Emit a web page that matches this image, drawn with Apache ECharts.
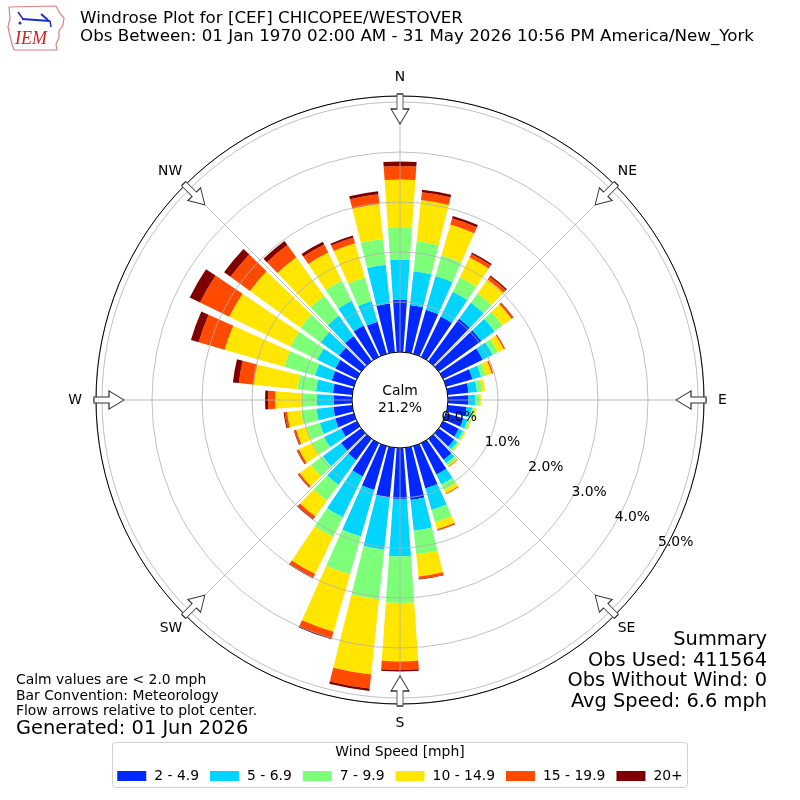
<!DOCTYPE html>
<html>
<head>
<meta charset="utf-8">
<script src="https://cdn.jsdelivr.net/npm/echarts@6/dist/echarts.min.js"></script>
<style>
  html, body { margin: 0; padding: 0; background: #fff; }
  #chart { width: 800px; height: 800px; }
</style>
</head>
<body>
<div id="chart"></div>
<script>
// wind direction bins (degrees, 10 degree bins centred on the value)
const directions = ['0', '10', '20', '30', '40', '50', '60', '70', '80', '90', '100', '110',
  '120', '130', '140', '150', '160', '170', '180', '190', '200', '210', '220', '230',
  '240', '250', '260', '270', '280', '290', '300', '310', '320', '330', '340', '350'];

// speed classes and colours
const speedBins = ['2 - 4.9', '5 - 6.9', '7 - 9.9', '10 - 14.9', '15 - 19.9', '20+'];
const binColors = ['#0028ff', '#00d4ff', '#7dff7a', '#ffe600', '#ff4a00', '#800000'];

// frequency (%) per direction for each speed class
const s2to5 = [1.05, 0.95, 0.92, 0.90, 1.05, 1.05, 0.88, 0.55, 0.42, 0.41, 0.38, 0.36,
  0.35, 0.38, 0.52, 0.70, 0.88, 1.05, 1.02, 1.00, 0.91, 0.74, 0.53, 0.50,
  0.35, 0.39, 0.38, 0.37, 0.39, 0.46, 0.48, 0.55, 0.62, 0.70, 0.67, 0.98];
const s5to7 = [0.80, 0.68, 0.70, 0.55, 0.40, 0.33, 0.22, 0.18, 0.17, 0.14, 0.11, 0.09,
  0.09, 0.08, 0.09, 0.22, 0.45, 0.62, 1.15, 1.05, 0.97, 0.91, 0.61, 0.45,
  0.38, 0.32, 0.34, 0.34, 0.34, 0.35, 0.40, 0.45, 0.50, 0.55, 0.43, 0.78];
const s7to10 = [0.65, 0.60, 0.43, 0.32, 0.23, 0.20, 0.12, 0.10, 0.10, 0.07, 0.05, 0.04,
  0.04, 0.04, 0.05, 0.12, 0.25, 0.47, 0.93, 1.00, 0.79, 0.44, 0.39, 0.29,
  0.26, 0.28, 0.31, 0.30, 0.37, 0.64, 0.60, 0.50, 0.50, 0.45, 0.49, 0.52];
const s10to15 = [0.95, 0.83, 0.64, 0.44, 0.34, 0.22, 0.13, 0.12, 0.06, 0.04, 0.04, 0.03,
  0.02, 0.02, 0.03, 0.08, 0.15, 0.45, 1.17, 1.51, 1.19, 0.82, 0.39, 0.28,
  0.30, 0.21, 0.28, 0.53, 0.88, 1.24, 1.36, 1.25, 0.95, 0.62, 0.71, 0.70];
const s15to20 = [0.27, 0.16, 0.13, 0.08, 0.07, 0.04, 0.03, 0.03, 0.00, 0.00, 0.00, 0.00,
  0.00, 0.00, 0.01, 0.02, 0.03, 0.05, 0.17, 0.28, 0.13, 0.08, 0.06, 0.04,
  0.04, 0.04, 0.05, 0.14, 0.30, 0.54, 0.65, 0.48, 0.30, 0.18, 0.12, 0.20];
const s20up = [0.09, 0.05, 0.05, 0.03, 0.03, 0.01, 0.00, 0.00, 0.00, 0.00, 0.00, 0.00,
  0.00, 0.00, 0.00, 0.00, 0.00, 0.01, 0.03, 0.05, 0.03, 0.02, 0.02, 0.01,
  0.01, 0.01, 0.02, 0.06, 0.12, 0.16, 0.23, 0.16, 0.10, 0.06, 0.04, 0.06];

// compass labels and flow arrow angles
const compassAngles = [0, 45, 90, 135, 180, 225, 270, 315];
const compassLabels = ['N', 'NE', 'E', 'SE', 'S', 'SW', 'W', 'NW'];
const compassRich = ['n', 'dt', 'e', 'db', 's', 'db', 'w', 'dt'];
const arrowRadius = 4.86;

const calmText = 'Calm\n21.2%';
const summaryLines = ['Summary', 'Obs Used: 411564', 'Obs Without Wind: 0', 'Avg Speed: 6.6 mph'];
const noteLines = ['Calm values are < 2.0 mph', 'Bar Convention: Meteorology', 'Flow arrows relative to plot center.'];

const FONT = 'DejaVu Sans';
const SMALL = 13.9;   // 10pt
const MID = 16.7;     // 12pt
const BIG = 19.4;     // 14pt
const rMax = 5.12;
const polarRadius = [48, 304];

const chart = echarts.init(document.getElementById('chart'));

const speedSeries = [s2to5, s5to7, s7to10, s10to15, s15to20, s20up];
const barSeries = speedSeries.map((vals, i) => ({
  name: speedBins[i],
  type: 'bar',
  coordinateSystem: 'polar',
  polarIndex: 0,
  stack: 'speed',
  data: vals,
  barCategoryGap: '20%',
  itemStyle: { color: binColors[i] },
  z: 2
}));

// hollow arrows pointing at the centre
const arrowPath = 'path://M6,0 L12,0 L12,15 L18,15 L9,30 L0,15 L6,15 Z';
const arrowSeries = {
  type: 'scatter',
  coordinateSystem: 'polar',
  polarIndex: 1,
  data: compassAngles.map(a => [arrowRadius, a]),
  symbol: arrowPath,
  symbolSize: [18, 30],
  symbolRotate: v => -v[1],
  itemStyle: { color: '#fff', borderColor: '#333', borderWidth: 1, opacity: 1 },
  silent: true,
  z: 8
};

const texts = [];
// title
texts.push({ type: 'text', x: 80, y: 19, style: { text: 'Windrose Plot for [CEF] CHICOPEE/WESTOVER', fontSize: MID, fontFamily: FONT, fill: '#000', verticalAlign: 'middle' } });
texts.push({ type: 'text', x: 80, y: 37, style: { text: 'Obs Between: 01 Jan 1970 02:00 AM - 31 May 2026 10:56 PM America/New_York', fontSize: MID, fontFamily: FONT, fill: '#000', verticalAlign: 'middle' } });
// calm in the middle
texts.push({ type: 'text', x: 400, y: 400, z: 20, style: { text: calmText, fontSize: SMALL, lineHeight: 17, fontFamily: FONT, fill: '#000', align: 'center', verticalAlign: 'middle' } });
// notes bottom left
noteLines.forEach((t, i) => {
  texts.push({ type: 'text', x: 16, y: 680.5 + i * 15.6, style: { text: t, fontSize: SMALL, fontFamily: FONT, fill: '#000', verticalAlign: 'middle' } });
});
texts.push({ type: 'text', x: 16, y: 729, style: { text: 'Generated: 01 Jun 2026', fontSize: BIG, fontFamily: FONT, fill: '#000', verticalAlign: 'middle' } });
// summary bottom right
summaryLines.forEach((t, i) => {
  texts.push({ type: 'text', x: 767, y: 640 + i * 20.6, style: { text: t, fontSize: BIG, fontFamily: FONT, fill: '#000', align: 'right', verticalAlign: 'middle' } });
});
// legend frame and title
texts.push({ type: 'rect', shape: { x: 112.5, y: 742.5, width: 575, height: 45, r: 3 }, z: 1, style: { fill: '#fff', stroke: '#d0d0d0', lineWidth: 1 } });
texts.push({ type: 'text', x: 400, y: 752, z: 2, style: { text: 'Wind Speed [mph]', fontSize: SMALL, fontFamily: FONT, fill: '#000', align: 'center', verticalAlign: 'middle' } });

// IEM logo (rough)
const logo = {
  type: 'group', x: 0, y: 0,
  children: [
    { type: 'polyline', shape: { points: [[9, 7], [56, 6], [59, 12], [64, 18], [63, 25], [59, 31], [59, 38], [56, 44], [57, 50], [14, 50], [12, 44], [10, 36], [8, 27], [10, 18], [9, 7]] },
      style: { stroke: '#e08080', lineWidth: 1.2, fill: null } },
    { type: 'line', shape: { x1: 22, y1: 19, x2: 50, y2: 21 }, style: { stroke: '#1a2bd0', lineWidth: 2 } },
    { type: 'line', shape: { x1: 18, y1: 12, x2: 23, y2: 19 }, style: { stroke: '#1a2bd0', lineWidth: 1.5 } },
    { type: 'line', shape: { x1: 41, y1: 14, x2: 48, y2: 20 }, style: { stroke: '#1a2bd0', lineWidth: 2 } },
    { type: 'line', shape: { x1: 50, y1: 21, x2: 51, y2: 27 }, style: { stroke: '#1a2bd0', lineWidth: 1.5 } },
    { type: 'circle', shape: { cx: 20, cy: 23, r: 1.5 }, style: { fill: '#1a2bd0' } },
    { type: 'text', x: 15, y: 39, style: { text: 'IEM', fontSize: 18, fontStyle: 'italic', fontFamily: 'Liberation Serif', fill: '#d42020', verticalAlign: 'middle' } }
  ]
};
texts.push(logo);

const option = {
  backgroundColor: '#fff',
  animation: false,
  textStyle: { fontFamily: FONT },
  polar: [
    { center: ['50%', '50%'], radius: polarRadius },
    { center: ['50%', '50%'], radius: polarRadius },
    { center: ['50%', '50%'], radius: polarRadius }
  ],
  angleAxis: [
    {
      // bars
      polarIndex: 0,
      type: 'category',
      data: directions,
      startAngle: 95,
      clockwise: true,
      axisLine: { show: false },
      axisTick: { show: false },
      axisLabel: { show: false },
      splitLine: { show: false }
    },
    {
      // grid spokes, outer ring, compass labels
      polarIndex: 1,
      type: 'value',
      min: 0,
      max: 360,
      interval: 45,
      startAngle: 90,
      clockwise: true,
      z: 5,
      axisLine: { show: true, lineStyle: { color: '#000', width: 1 } },
      axisTick: { show: false },
      axisLabel: {
        show: true,
        margin: 4,
        fontSize: SMALL,
        color: '#000',
        fontFamily: FONT,
        formatter: v => {
          const k = compassAngles.indexOf(Math.round(v));
          return k >= 0 ? '{' + compassRich[k] + '|' + compassLabels[k] + '}' : '';
        },
        rich: {
          n: { fontSize: SMALL, fontFamily: FONT, color: '#000', padding: [0, 0, 8, 0] },
          s: { fontSize: SMALL, fontFamily: FONT, color: '#000', padding: [8, 0, 0, 0] },
          e: { fontSize: SMALL, fontFamily: FONT, color: '#000', padding: [0, 0, 0, 10] },
          w: { fontSize: SMALL, fontFamily: FONT, color: '#000', padding: [0, 10, 0, 0] },
          dt: { fontSize: SMALL, fontFamily: FONT, color: '#000', padding: [0, 0, 4, 0] },
          db: { fontSize: SMALL, fontFamily: FONT, color: '#000', padding: [4, 0, 0, 0] }
        }
      },
      splitLine: { show: true, lineStyle: { color: '#b0b0b0', width: 0.8 } }
    },
    {
      // only used to aim the % labels
      polarIndex: 2,
      type: 'value',
      min: 0,
      max: 360,
      startAngle: -30,
      show: false
    }
  ],
  radiusAxis: [
    {
      polarIndex: 0,
      min: 0,
      max: rMax,
      axisLine: { show: false },
      axisTick: { show: false },
      axisLabel: { show: false },
      splitLine: { show: false }
    },
    {
      polarIndex: 1,
      min: 0,
      max: rMax,
      interval: 1,
      z: 5,
      axisLine: { show: false },
      axisTick: { show: false },
      axisLabel: { show: false },
      splitLine: { show: true, lineStyle: { color: '#b0b0b0', width: 0.8 } }
    },
    {
      polarIndex: 2,
      min: 0,
      max: rMax,
      interval: 1,
      z: 10,
      axisLine: { show: false },
      axisTick: { show: false },
      splitLine: { show: false },
      axisLabel: {
        show: true,
        margin: 0,
        rotate: 0,
        align: 'left',
        verticalAlign: 'bottom',
        fontSize: SMALL,
        color: '#000',
        fontFamily: FONT,
        formatter: v => (Math.abs(v - Math.round(v)) < 1e-6 ? v.toFixed(1) + '%' : '')
      }
    }
  ],
  legend: {
    data: speedBins,
    left: 'center',
    top: 764,
    icon: 'rect',
    itemWidth: 29,
    itemHeight: 10,
    itemGap: 11,
    z: 10,
    selectedMode: false,
    textStyle: { fontSize: SMALL, color: '#000', fontFamily: FONT, padding: [0, 0, 0, 3] }
  },
  graphic: texts,
  series: barSeries.concat([arrowSeries])
};

chart.setOption(option);
</script>
</body>
</html>
